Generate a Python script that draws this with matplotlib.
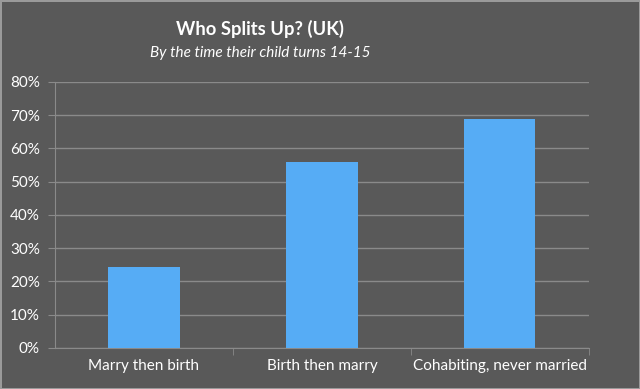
import matplotlib.pyplot as plt
from matplotlib.ticker import PercentFormatter

categories = ['Marry then birth', 'Birth then marry', 'Cohabiting, never married']
split_rates = [24.4, 55.8, 69.0]
y_ticks = [0, 10, 20, 30, 40, 50, 60, 70, 80]

bg = '#595959'
grid = '#8a8a8a'
bar_color = '#56acf5'
font = ['Lato', 'DejaVu Sans']

fig = plt.figure(figsize=(6.4, 3.89), dpi=100, facecolor=bg)
fig.patch.set_edgecolor('#9a9a9a')
fig.patch.set_linewidth(2)
ax = fig.add_axes([0.086, 0.1054, 0.834, 0.684])
ax.set_facecolor(bg)

x = range(len(categories))
ax.bar(x, split_rates, width=0.4, color=bar_color, zorder=3)

ax.set_ylim(0, 80)
ax.set_xlim(-0.5, 2.5)
ax.set_yticks(y_ticks)
ax.yaxis.set_major_formatter(PercentFormatter(decimals=0))
ax.grid(axis='y', color=grid, linewidth=1, zorder=0)

ax.set_xticks(list(x))
ax.set_xticklabels(categories, fontfamily=font, fontsize=11, color='white')
ax.tick_params(axis='x', length=0, pad=8)
ax.set_xticks([0.5, 1.5, 2.5], minor=True)
ax.tick_params(axis='x', which='minor', length=5, color=grid)
ax.tick_params(axis='y', length=5, color=grid, labelcolor='white', labelsize=11, pad=6)
for lbl in ax.get_yticklabels():
    lbl.set_fontfamily(font)

for side in ['top', 'right']:
    ax.spines[side].set_visible(False)
ax.spines['left'].set_color(grid)
ax.spines['bottom'].set_color(grid)

fig.text(0.406, 0.925, 'Who Splits Up? (UK)', ha='center', va='center',
         color='white', fontsize=13.2, fontweight='bold', fontfamily=font)
fig.text(0.406, 0.863, 'By the time their child turns 14-15', ha='center', va='center',
         color='white', fontsize=11, fontstyle='italic', fontfamily=font)

fig.savefig('out.png', dpi=100, facecolor=bg, edgecolor=fig.patch.get_edgecolor())
